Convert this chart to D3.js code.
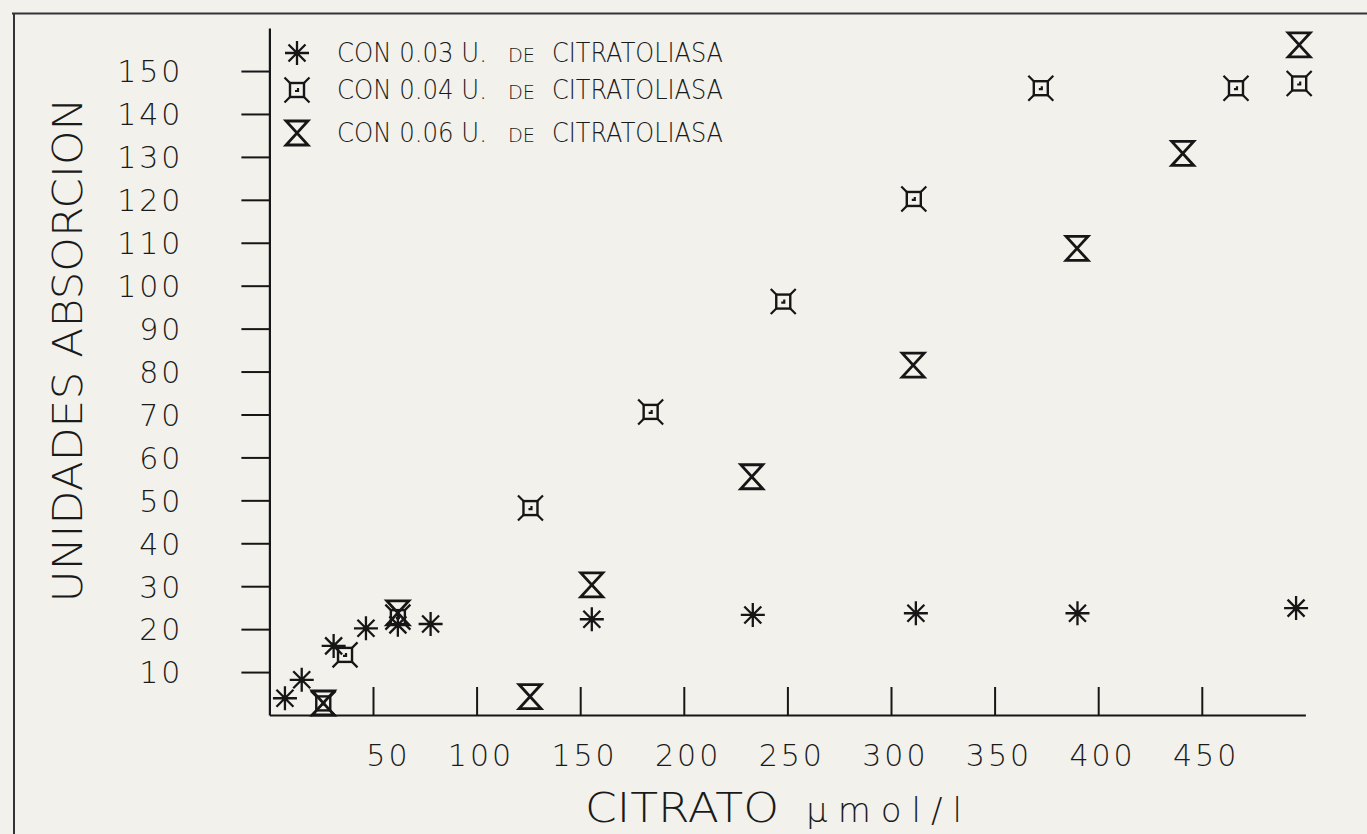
<!DOCTYPE html>
<html>
<head>
<meta charset="utf-8">
<script src="https://cdn.jsdelivr.net/npm/d3@7"></script>
<style>
  html, body { margin: 0; padding: 0; background: #f2f1ec; }
  svg { display: block; }
  text { font-family: "DejaVu Sans", sans-serif; fill: #1a1a1a; }
</style>
</head>
<body>
<svg id="chart"></svg>
<script>
// 0.03 U. de citratoliasa (asterisks)
const citrato003 = [7.5, 15.6, 31, 46.6, 62, 77.8, 155.6, 233.3, 312, 390, 495.5];
const absorcion003 = [3.9, 8.2, 16.1, 20.2, 21.0, 21.2, 22.3, 23.3, 23.7, 23.7, 24.9];

// 0.04 U. (squares with legs)
const citrato004 = [26, 36.5, 62, 126, 184, 248, 311, 372.3, 466.5, 497];
const absorcion004 = [2.7, 14.0, 22.8, 48.2, 70.6, 96.3, 120.2, 146, 146, 147.1];

// 0.06 U. (hourglasses)
const citrato006 = [26, 62, 125.8, 155.6, 232.8, 310.7, 389.8, 440.8, 497];
const absorcion006 = [2.8, 23.8, 4.3, 30.3, 55.5, 81.5, 108.7, 130.8, 156.1];

const xTickValues = [50, 100, 150, 200, 250, 300, 350, 400, 450];
const yTickValues = [10, 20, 30, 40, 50, 60, 70, 80, 90, 100, 110, 120, 130, 140, 150];
const legendLabels = ["0.03", "0.04", "0.06"];

const W = 1367, H = 834;
const svg = d3.select("#chart").attr("width", W).attr("height", H);
const ink = "#161616";

// scanned page frame
svg.append("line").attr("x1", 12).attr("x2", W).attr("y1", 13.5).attr("y2", 13.5)
  .attr("stroke", "#333").attr("stroke-width", 2);
svg.append("line").attr("x1", 14).attr("x2", 14).attr("y1", 13).attr("y2", H)
  .attr("stroke", "#333").attr("stroke-width", 2);

const x = d3.scaleLinear().domain([0, 500]).range([269.4, 1305.4]);
const y = d3.scaleLinear().domain([0, 160]).range([715, 28.1]);

// X axis (ticks point inward)
const gx = svg.append("g")
  .attr("transform", "translate(0," + y(0) + ")")
  .call(d3.axisBottom(x).tickValues(xTickValues).tickSizeInner(-28).tickSizeOuter(0));
gx.select(".domain").attr("stroke", ink).attr("stroke-width", 2.2);
gx.selectAll(".tick line").attr("stroke", ink).attr("stroke-width", 2);
gx.selectAll(".tick text")
  .attr("x", 37).attr("y", 51).attr("dy", 0)
  .attr("text-anchor", "end")
  .style("font-size", "30px").style("font-weight", 200).style("letter-spacing", "3px")
  .attr("fill", ink);

// Y axis
const gy = svg.append("g")
  .attr("transform", "translate(" + x(0) + ",0)")
  .call(d3.axisLeft(y).tickValues(yTickValues).tickSizeInner(28).tickSizeOuter(0));
gy.select(".domain").attr("stroke", ink).attr("stroke-width", 2.2);
gy.selectAll(".tick line").attr("stroke", ink).attr("stroke-width", 2);
gy.selectAll(".tick text")
  .attr("x", -86).attr("dy", "0.36em")
  .style("font-size", "30px").style("font-weight", 200).style("letter-spacing", "3px")
  .attr("fill", ink);

// axis titles
svg.append("text")
  .attr("transform", "translate(82,350) rotate(-90)")
  .attr("text-anchor", "middle")
  .attr("textLength", 505).attr("lengthAdjust", "spacingAndGlyphs")
  .style("font-size", "41px").style("font-weight", 200)
  .text("UNIDADES ABSORCION");

svg.append("text")
  .attr("x", 585).attr("y", 822)
  .attr("textLength", 194).attr("lengthAdjust", "spacingAndGlyphs")
  .style("font-size", "40px").style("font-weight", 200)
  .text("CITRATO");
svg.append("text")
  .attr("x", 806).attr("y", 822)
  .attr("textLength", 156).attr("lengthAdjust", "spacing")
  .style("font-size", "34px").style("font-weight", 200)
  .text("μmol/l");

// symbols
function asterisk(g) {
  const r = 12;
  g.append("path")
    .attr("d", [0, 45, 90, 135].map(a => {
      const t = a * Math.PI / 180, dx = r * Math.cos(t), dy = r * Math.sin(t);
      return "M" + (-dx) + "," + (-dy) + "L" + dx + "," + dy;
    }).join(""))
    .attr("stroke", ink).attr("stroke-width", 2.3).attr("fill", "none");
  g.append("circle").attr("r", 2.6).attr("fill", ink);
}
function legSquare(g) {
  const s = 7, l = 5.5;
  g.append("rect").attr("x", -s).attr("y", -s).attr("width", 2 * s).attr("height", 2 * s)
    .attr("stroke", ink).attr("stroke-width", 2.4).attr("fill", "none");
  g.append("path")
    .attr("d", "M" + (-s) + "," + (-s) + "l" + (-l) + "," + (-l) +
               "M" + s + "," + (-s) + "l" + l + "," + (-l) +
               "M" + (-s) + "," + s + "l" + (-l) + "," + l +
               "M" + s + "," + s + "l" + l + "," + l +
               "M1,-2l0,3l-3,0")
    .attr("stroke", ink).attr("stroke-width", 2.2).attr("fill", "none");
}
function hourglass(g) {
  const w = 11, h = 12;
  g.append("path")
    .attr("d", "M" + (-w) + "," + (-h) + "L" + w + "," + (-h) + "L" + (-w) + "," + h + "L" + w + "," + h + "Z")
    .attr("stroke", ink).attr("stroke-width", 2.8).attr("fill", "none").attr("stroke-linejoin", "miter");
}

const series = [
  { xs: citrato004, ys: absorcion004, draw: legSquare },
  { xs: citrato006, ys: absorcion006, draw: hourglass },
  { xs: citrato003, ys: absorcion003, draw: asterisk }
];

series.forEach(s => {
  svg.append("g").selectAll("g")
    .data(s.xs.map((v, i) => ({ x: v, y: s.ys[i] })))
    .join("g")
    .attr("transform", d => "translate(" + x(d.x) + "," + y(d.y) + ")")
    .each(function () { s.draw(d3.select(this)); });
});

// legend: each row as three separate texts ("DE" in small caps)
const legendDraw = [asterisk, legSquare, hourglass];
const legendRows = [53, 90, 133];
legendLabels.forEach((lab, i) => {
  const base = legendRows[i] + 9;
  const lg = svg.append("g").attr("transform", "translate(297," + legendRows[i] + ")");
  legendDraw[i](lg);
  svg.append("text").attr("x", 337).attr("y", base)
    .attr("textLength", 150).attr("lengthAdjust", "spacingAndGlyphs")
    .style("font-size", "27px").style("font-weight", 200)
    .text("CON " + lab + " U.");
  svg.append("text").attr("x", 508).attr("y", base)
    .attr("textLength", 27).attr("lengthAdjust", "spacingAndGlyphs")
    .style("font-size", "20px").style("font-weight", 200)
    .text("DE");
  svg.append("text").attr("x", 552).attr("y", base)
    .attr("textLength", 171).attr("lengthAdjust", "spacingAndGlyphs")
    .style("font-size", "27px").style("font-weight", 200)
    .text("CITRATOLIASA");
});
</script>
</body>
</html>
